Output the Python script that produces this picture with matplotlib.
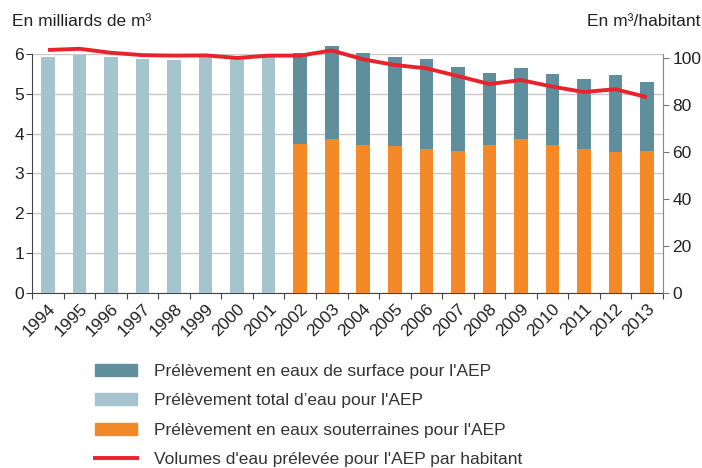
import matplotlib
matplotlib.use('Agg')
import matplotlib.pyplot as plt
from matplotlib.patches import Patch
from matplotlib.lines import Line2D
import numpy as np

plt.rcParams['font.family'] = ['Liberation Sans', 'DejaVu Sans']

years = ['1994', '1995', '1996', '1997', '1998', '1999', '2000', '2001',
         '2002', '2003', '2004', '2005', '2006', '2007', '2008', '2009',
         '2010', '2011', '2012', '2013']
# total withdrawal (billion m3)
total = [5.94, 5.97, 5.92, 5.87, 5.85, 5.92, 5.87, 5.94,
         6.04, 6.21, 6.04, 5.93, 5.87, 5.69, 5.53, 5.65,
         5.50, 5.38, 5.48, 5.30]
# groundwater share, known from 2002 on
ground_years = years[8:]
ground = [3.75, 3.87, 3.72, 3.70, 3.62, 3.56, 3.72, 3.86,
          3.71, 3.62, 3.53, 3.57]
# volume per inhabitant (m3/hab)
per_hab = [103.3, 103.8, 102.1, 101.1, 100.9, 101.0, 99.9, 100.9,
           100.9, 103.1, 99.3, 96.9, 95.5, 92.2, 88.8, 90.5,
           87.7, 85.4, 86.6, 83.2]

c_surface = '#5f8e9c'
c_total = '#a6c4cd'
c_ground = '#f48a27'
c_red = '#e8232c'

labels = ["Prélèvement en eaux de surface pour l'AEP",
          "Prélèvement total d\u2019eau pour l'AEP",
          "Prélèvement en eaux souterraines pour l'AEP",
          "Volumes d'eau prélevée pour l'AEP par habitant"]


def main():
    fig = plt.figure(figsize=(7.02, 4.68), dpi=100)
    ax = fig.add_axes([32.3 / 702, 1 - 292.7 / 468,
                       630.4 / 702, 238.5 / 468])
    ax2 = ax.twinx()

    x = np.arange(len(years))
    w = 0.43
    n_old = len(years) - len(ground)
    ax.bar(x[:n_old], total[:n_old], w, color=c_total, clip_on=False,
           zorder=3)
    surface = [t - g for t, g in zip(total[n_old:], ground)]
    ax.bar(x[n_old:], ground, w, color=c_ground, zorder=3, clip_on=False)
    ax.bar(x[n_old:], surface, w, bottom=ground, color=c_surface,
           zorder=3, clip_on=False)

    ax2.plot(x, per_hab, color=c_red, lw=2.8, clip_on=False, zorder=5,
             solid_capstyle='butt')

    ax.set_xlim(-0.5, len(years) - 0.5)
    ax.set_ylim(0, 6)
    ax2.set_ylim(0, 101.5)
    ax.set_zorder(ax2.get_zorder() - 1)
    ax.patch.set_visible(False)

    ax.set_yticks(range(7))
    ax2.set_yticks(range(0, 101, 20))
    ax.yaxis.grid(True, color='#c8c8c8', lw=1.0, zorder=0)
    ax.set_axisbelow(True)

    # category boundaries as major ticks, labels at bar centres
    ax.set_xticks(np.arange(-0.5, len(years), 1.0))
    ax.set_xticklabels([])
    ax.set_xticks(x, minor=True)
    ax.set_xticklabels(years, minor=True, rotation=45, ha='right',
                       rotation_mode='anchor', fontsize=12.5,
                       color='#222222')
    ax.tick_params(axis='x', which='minor', length=0, pad=6)
    ax.tick_params(axis='x', which='major', length=4, color='#444444',
                   direction='out')
    ax.tick_params(axis='y', length=4, color='#444444', labelsize=12.5,
                   labelcolor='#222222', pad=2)
    ax2.tick_params(axis='y', length=4, color='#777777', labelsize=12.5,
                    labelcolor='#222222', pad=3)

    ax.spines['top'].set_visible(False)
    ax2.spines['top'].set_visible(False)
    ax.spines['left'].set_color('#444444')
    ax.spines['bottom'].set_color('#444444')
    ax2.spines['left'].set_visible(False)
    ax2.spines['bottom'].set_visible(False)
    ax2.spines['right'].set_color('#888888')
    ax.spines['right'].set_visible(False)

    fig.text(12 / 702, 1 - 22 / 468, 'En milliards de m\u00b3',
             fontsize=12.5, va='center', ha='left', color='#222222')
    fig.text(700 / 702, 1 - 22 / 468, 'En m\u00b3/habitant', fontsize=12.5,
             va='center', ha='right', color='#222222')

    handles = [Patch(color=c_surface), Patch(color=c_total),
               Patch(color=c_ground), Line2D([], [], color=c_red, lw=2.8)]
    fig.legend(handles, labels, loc='upper left',
               bbox_to_anchor=(95 / 702, 1 - 364 / 468), frameon=False,
               fontsize=12.5, handlelength=2.4, handleheight=0.69,
               handletextpad=0.98, labelspacing=0.82, borderpad=0,
               borderaxespad=0, labelcolor='#333333')

    fig.savefig('out.png', dpi=100)


if __name__ == '__main__':
    main()
